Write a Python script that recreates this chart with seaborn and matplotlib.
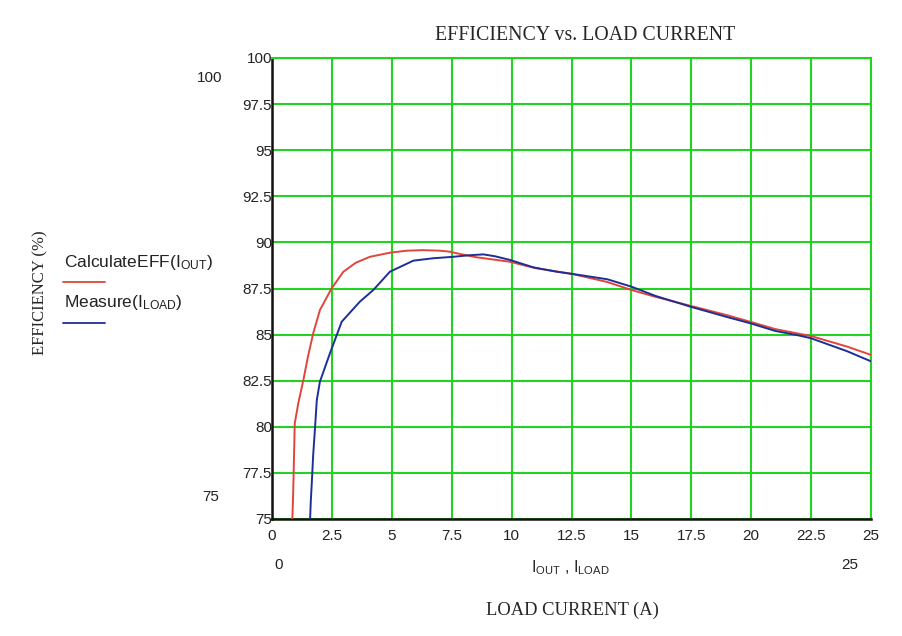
import numpy as np
import pandas as pd
import matplotlib
matplotlib.use("Agg")
import matplotlib.pyplot as plt
import seaborn as sns

# ---- data ----
calc_x = [0.85, 0.87, 0.89, 0.95, 1.1, 1.31, 1.5, 1.72, 2.0, 2.49, 2.98, 3.5, 4.09, 4.92, 5.62, 6.3, 7.01, 7.4, 7.71, 8.5, 9.93, 11.0, 12.5, 14.0, 15.0, 16.0, 17.5, 19.0, 20.0, 21.0, 22.5, 24.0, 25.0]
calc_y = [75.0, 75.8, 76.75, 80.19, 81.3, 82.54, 83.8, 85.07, 86.33, 87.51, 88.41, 88.9, 89.22, 89.44, 89.55, 89.58, 89.55, 89.5, 89.41, 89.2, 88.95, 88.6, 88.3, 87.85, 87.42, 87.05, 86.55, 86.05, 85.68, 85.3, 84.92, 84.35, 83.9]

meas_x = [1.59, 1.62, 1.66, 1.72, 1.79, 1.87, 2.0, 2.42, 2.91, 3.67, 4.23, 4.92, 5.9, 6.73, 7.57, 8.2, 8.82, 9.3, 9.93, 10.9, 11.88, 13.0, 14.0, 15.0, 16.0, 17.5, 19.0, 20.0, 21.0, 22.0, 22.5, 24.0, 25.0]
meas_y = [75.0, 76.0, 76.94, 78.5, 79.83, 81.45, 82.45, 83.99, 85.7, 86.79, 87.42, 88.41, 89.01, 89.14, 89.22, 89.3, 89.35, 89.25, 89.05, 88.65, 88.41, 88.2, 88.0, 87.6, 87.1, 86.5, 85.95, 85.6, 85.2, 84.95, 84.8, 84.1, 83.55]

x_ticks = [0, 2.5, 5, 7.5, 10, 12.5, 15, 17.5, 20, 22.5, 25]
x_tick_labels = ["0", "2.5", "5", "7.5", "10", "12.5", "15", "17.5", "20", "22.5", "25"]
y_ticks = [75, 77.5, 80, 82.5, 85, 87.5, 90, 92.5, 95, 97.5, 100]
y_tick_labels = ["75", "77.5", "80", "82.5", "85", "87.5", "90", "92.5", "95", "97.5", "100"]

title = "EFFICIENCY vs. LOAD CURRENT"
label_calc = r"CalculateEFF($\mathregular{I_{OUT}}$)"
label_meas = r"Measure($\mathregular{I_{LOAD}}$)"

# ---- style ----
sns.set_style("white")
plt.rcParams['font.family'] = ['Liberation Sans', 'DejaVu Sans']
serif = ['Liberation Serif', 'DejaVu Serif']

RED = "#e0453c"
BLUE = "#1c2f96"
GREEN = "#22d322"

fig = plt.figure(figsize=(9.02, 6.36), dpi=100)
ax = fig.add_axes([272/902, 1-519/636, (871-272)/902, (519-58)/636])

df_c = pd.DataFrame({"x": calc_x, "y": calc_y})
df_m = pd.DataFrame({"x": meas_x, "y": meas_y})

ax.set_xlim(0, 25)
ax.set_ylim(75, 100)
ax.set_xticks(x_ticks)
ax.set_yticks(y_ticks)
ax.grid(True, color=GREEN, linewidth=1.5)
ax.set_axisbelow(True)

sns.lineplot(data=df_c, x="x", y="y", ax=ax, color=RED, linewidth=1.4,
             sort=False, estimator=None, zorder=3)
sns.lineplot(data=df_m, x="x", y="y", ax=ax, color=BLUE, linewidth=1.4,
             sort=False, estimator=None, zorder=4)

ax.set_xticklabels(x_tick_labels, fontsize=11, color="#222222")
ax.set_yticklabels(y_tick_labels, fontsize=11, color="#222222")
ax.tick_params(axis='y', direction='inout', length=8, width=1.2, pad=-4, colors="#222222")
ax.tick_params(axis='x', direction='in', length=0, pad=7)

for s in ["top", "right"]:
    ax.spines[s].set_color(GREEN)
    ax.spines[s].set_linewidth(1.5)
for s in ["left", "bottom"]:
    ax.spines[s].set_color("#111111")
    ax.spines[s].set_linewidth(1.8)

ax.set_xlabel("")
ax.set_ylabel("")

# ---- extra texts in figure pixels ----
def fx(px):
    return px / 902
def fy(py):
    return 1 - py / 636

fig.text(fx(585), fy(35), title, fontsize=14.3, family=serif, ha="center", va="center")
fig.text(fx(40), fy(293), "EFFICIENCY (%)", fontsize=12, family=serif, rotation=90, ha="center", va="center")
fig.text(fx(572), fy(610), "LOAD CURRENT (A)", fontsize=13.3, family=serif, ha="center", va="center")
fig.text(fx(570), fy(568), r"$\mathregular{I_{OUT}}$ , $\mathregular{I_{LOAD}}$", fontsize=11.5, ha="center", va="center")
fig.text(fx(210), fy(78), "100", fontsize=11, ha="center", va="center", color="#222222")
fig.text(fx(211), fy(497), "75", fontsize=11, ha="center", va="center", color="#222222")
fig.text(fx(279), fy(565), "0", fontsize=11, ha="center", va="center", color="#222222")
fig.text(fx(850), fy(565), "25", fontsize=11, ha="center", va="center", color="#222222")

# legend-like labels
fig.text(fx(64), fy(262), label_calc, fontsize=12.5, ha="left", va="center", color="#222222")
fig.add_artist(plt.Line2D([fx(63), fx(105)], [fy(282), fy(282)], color=RED, linewidth=1.3))
fig.text(fx(64), fy(302), label_meas, fontsize=12.5, ha="left", va="center", color="#222222")
fig.add_artist(plt.Line2D([fx(63), fx(105)], [fy(323), fy(323)], color=BLUE, linewidth=1.3))

fig.savefig("out.png", dpi=100)
